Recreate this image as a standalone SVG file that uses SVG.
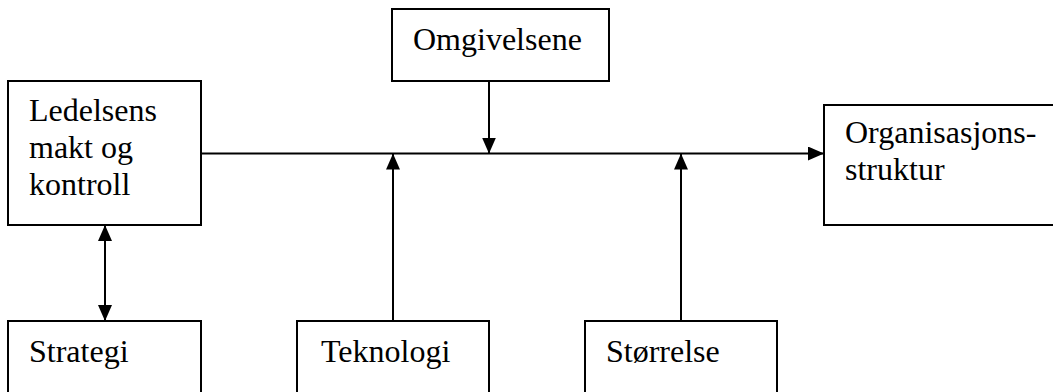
<svg xmlns="http://www.w3.org/2000/svg" width="1053" height="392" viewBox="0 0 1053 392">
  <style>
    .box { fill: #fff; stroke: #000; stroke-width: 2; }
    .wire { fill: none; stroke: #000; stroke-width: 2; }
  </style>
  <defs>
    <marker id="head" viewBox="0 0 16 14" refX="16" refY="7" markerWidth="16" markerHeight="14" markerUnits="userSpaceOnUse" orient="auto-start-reverse">
      <path d="M0,0 L16,7 L0,14 Z" fill="#000"/>
    </marker>
  </defs>
  <rect width="1053" height="392" fill="#fff"/>

  <g id="connectors">
    <!-- main flow toward the structure box -->
    <line class="wire" x1="201" y1="153.5" x2="824" y2="153.5" marker-end="url(#head)"/>
    <!-- environment pushes down onto the flow -->
    <line class="wire" x1="489" y1="81" x2="489" y2="153.5" marker-end="url(#head)"/>
    <!-- technology and size push up onto the flow -->
    <line class="wire" x1="393" y1="321" x2="393" y2="153.5" marker-end="url(#head)"/>
    <line class="wire" x1="681" y1="321" x2="681" y2="153.5" marker-end="url(#head)"/>
    <!-- two-way link between management and strategy -->
    <line class="wire" x1="105" y1="225" x2="105" y2="321" marker-start="url(#head)" marker-end="url(#head)"/>
  </g>

  <g font-family="Liberation Serif, Times New Roman, serif" font-size="32" fill="#000">
    <g id="ledelsens">
      <rect class="box" x="8" y="81" width="193" height="144"/>
      <text x="29" y="121">Ledelsens</text>
      <text x="29" y="158">makt og</text>
      <text x="29" y="195">kontroll</text>
    </g>

    <g id="omgivelsene">
      <rect class="box" x="392" y="9" width="217" height="72"/>
      <text x="413" y="50">Omgivelsene</text>
    </g>

    <g id="organisasjonsstruktur">
      <rect class="box" x="824" y="105" width="240" height="120"/>
      <text x="845" y="143">Organisasjons-</text>
      <text x="845" y="180">struktur</text>
    </g>

    <g id="strategi">
      <rect class="box" x="8" y="321" width="193" height="90"/>
      <text x="29" y="362">Strategi</text>
    </g>

    <g id="teknologi">
      <rect class="box" x="297" y="321" width="192" height="90"/>
      <text x="321" y="362">Teknologi</text>
    </g>

    <g id="storrelse">
      <rect class="box" x="585" y="321" width="192" height="90"/>
      <text x="606" y="362">Størrelse</text>
    </g>
  </g>
</svg>
